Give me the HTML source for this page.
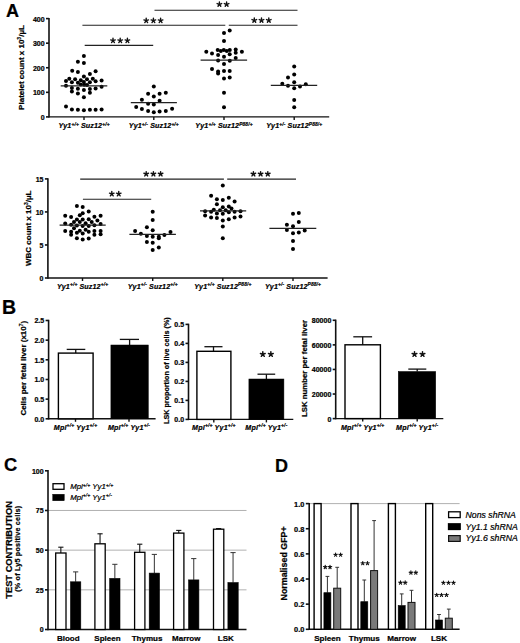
<!DOCTYPE html>
<html><head><meta charset="utf-8"><style>
html,body{margin:0;padding:0;background:#fff;overflow:hidden;}
svg{display:block;}
svg text{font-family:"Liberation Sans", sans-serif;fill:#000;stroke:#000;stroke-width:0.22px;}
</style></head><body>
<svg width="520" height="643" viewBox="0 0 520 643">
<rect width="520" height="643" fill="#fff"/>
<text x="12.50" y="16.50" font-size="18" font-weight="bold" font-style="normal" text-anchor="middle" >A</text>
<line x1="49.00" y1="17.90" x2="49.00" y2="117.60" stroke="#111" stroke-width="1.6"/>
<line x1="46.00" y1="116.90" x2="49.00" y2="116.90" stroke="#111" stroke-width="1.6"/>
<text x="44.60" y="119.80" font-size="7" font-weight="bold" font-style="normal" text-anchor="end" >0</text>
<line x1="46.00" y1="92.33" x2="49.00" y2="92.33" stroke="#111" stroke-width="1.6"/>
<text x="44.60" y="95.23" font-size="7" font-weight="bold" font-style="normal" text-anchor="end" >100</text>
<line x1="46.00" y1="67.75" x2="49.00" y2="67.75" stroke="#111" stroke-width="1.6"/>
<text x="44.60" y="70.65" font-size="7" font-weight="bold" font-style="normal" text-anchor="end" >200</text>
<line x1="46.00" y1="43.17" x2="49.00" y2="43.17" stroke="#111" stroke-width="1.6"/>
<text x="44.60" y="46.07" font-size="7" font-weight="bold" font-style="normal" text-anchor="end" >300</text>
<line x1="46.00" y1="18.60" x2="49.00" y2="18.60" stroke="#111" stroke-width="1.6"/>
<text x="44.60" y="21.50" font-size="7" font-weight="bold" font-style="normal" text-anchor="end" >400</text>
<line x1="49.00" y1="116.90" x2="329.20" y2="116.90" stroke="#111" stroke-width="1.4"/>
<line x1="84.00" y1="116.90" x2="84.00" y2="119.90" stroke="#111" stroke-width="1.4"/>
<line x1="153.80" y1="116.90" x2="153.80" y2="119.90" stroke="#111" stroke-width="1.4"/>
<line x1="224.00" y1="116.90" x2="224.00" y2="119.90" stroke="#111" stroke-width="1.4"/>
<line x1="294.20" y1="116.90" x2="294.20" y2="119.90" stroke="#111" stroke-width="1.4"/>
<text transform="translate(24.20,67.50) rotate(-90)" font-size="8.0" font-weight="bold" text-anchor="middle" >Platelet count x 10<tspan font-size="5.0" dy="-3.0">3</tspan><tspan dy="3.0">/µL</tspan></text>
<text x="84.00" y="128.10" font-size="7.1" font-weight="bold" font-style="italic" text-anchor="middle" letter-spacing="0.15">Yy1<tspan font-size="4.8" dy="-2.5">+/+</tspan><tspan dy="2.5"> Suz12</tspan><tspan font-size="4.8" dy="-2.5">+/+</tspan></text>
<text x="153.80" y="128.10" font-size="7.1" font-weight="bold" font-style="italic" text-anchor="middle" letter-spacing="0.15">Yy1<tspan font-size="4.8" dy="-2.5">+/-</tspan><tspan dy="2.5"> Suz12</tspan><tspan font-size="4.8" dy="-2.5">+/+</tspan></text>
<text x="224.00" y="128.10" font-size="7.1" font-weight="bold" font-style="italic" text-anchor="middle" letter-spacing="0.15">Yy1<tspan font-size="4.8" dy="-2.5">+/+</tspan><tspan dy="2.5"> Suz12</tspan><tspan font-size="4.8" dy="-2.5">P88/+</tspan></text>
<text x="294.20" y="128.10" font-size="7.1" font-weight="bold" font-style="italic" text-anchor="middle" letter-spacing="0.15">Yy1<tspan font-size="4.8" dy="-2.5">+/-</tspan><tspan dy="2.5"> Suz12</tspan><tspan font-size="4.8" dy="-2.5">P88/+</tspan></text>
<circle cx="83.90" cy="56.10" r="2.0" fill="#000"/>
<circle cx="77.90" cy="61.70" r="2.0" fill="#000"/>
<circle cx="83.90" cy="63.10" r="2.0" fill="#000"/>
<circle cx="72.20" cy="70.80" r="2.0" fill="#000"/>
<circle cx="77.90" cy="71.90" r="2.0" fill="#000"/>
<circle cx="95.60" cy="71.20" r="2.0" fill="#000"/>
<circle cx="89.90" cy="73.90" r="2.0" fill="#000"/>
<circle cx="83.90" cy="76.40" r="2.0" fill="#000"/>
<circle cx="66.00" cy="81.10" r="2.0" fill="#000"/>
<circle cx="69.30" cy="78.80" r="2.0" fill="#000"/>
<circle cx="75.10" cy="79.30" r="2.0" fill="#000"/>
<circle cx="80.80" cy="80.20" r="2.0" fill="#000"/>
<circle cx="87.00" cy="79.30" r="2.0" fill="#000"/>
<circle cx="92.80" cy="78.80" r="2.0" fill="#000"/>
<circle cx="95.60" cy="81.30" r="2.0" fill="#000"/>
<circle cx="101.60" cy="80.40" r="2.0" fill="#000"/>
<circle cx="71.90" cy="82.20" r="2.0" fill="#000"/>
<circle cx="77.90" cy="82.80" r="2.0" fill="#000"/>
<circle cx="83.90" cy="81.90" r="2.0" fill="#000"/>
<circle cx="89.90" cy="82.20" r="2.0" fill="#000"/>
<circle cx="80.80" cy="84.60" r="2.0" fill="#000"/>
<circle cx="87.00" cy="85.00" r="2.0" fill="#000"/>
<circle cx="66.00" cy="85.80" r="2.0" fill="#000"/>
<circle cx="84.20" cy="84.80" r="2.0" fill="#000"/>
<circle cx="101.60" cy="86.80" r="2.0" fill="#000"/>
<circle cx="71.90" cy="88.00" r="2.0" fill="#000"/>
<circle cx="77.90" cy="88.70" r="2.0" fill="#000"/>
<circle cx="83.90" cy="89.90" r="2.0" fill="#000"/>
<circle cx="89.90" cy="89.00" r="2.0" fill="#000"/>
<circle cx="95.60" cy="88.60" r="2.0" fill="#000"/>
<circle cx="71.90" cy="91.60" r="2.0" fill="#000"/>
<circle cx="77.90" cy="93.40" r="2.0" fill="#000"/>
<circle cx="89.90" cy="92.80" r="2.0" fill="#000"/>
<circle cx="83.90" cy="97.30" r="2.0" fill="#000"/>
<circle cx="66.00" cy="106.60" r="2.0" fill="#000"/>
<circle cx="71.90" cy="109.40" r="2.0" fill="#000"/>
<circle cx="77.90" cy="109.70" r="2.0" fill="#000"/>
<circle cx="83.90" cy="110.20" r="2.0" fill="#000"/>
<circle cx="89.90" cy="109.70" r="2.0" fill="#000"/>
<circle cx="95.60" cy="109.70" r="2.0" fill="#000"/>
<circle cx="101.60" cy="109.40" r="2.0" fill="#000"/>
<circle cx="153.80" cy="86.50" r="2.0" fill="#000"/>
<circle cx="148.10" cy="93.70" r="2.0" fill="#000"/>
<circle cx="159.60" cy="93.70" r="2.0" fill="#000"/>
<circle cx="165.80" cy="92.70" r="2.0" fill="#000"/>
<circle cx="153.80" cy="96.50" r="2.0" fill="#000"/>
<circle cx="141.90" cy="99.80" r="2.0" fill="#000"/>
<circle cx="159.60" cy="100.80" r="2.0" fill="#000"/>
<circle cx="148.10" cy="103.80" r="2.0" fill="#000"/>
<circle cx="153.80" cy="104.60" r="2.0" fill="#000"/>
<circle cx="136.20" cy="107.10" r="2.0" fill="#000"/>
<circle cx="141.90" cy="109.00" r="2.0" fill="#000"/>
<circle cx="172.10" cy="108.70" r="2.0" fill="#000"/>
<circle cx="148.10" cy="111.00" r="2.0" fill="#000"/>
<circle cx="153.80" cy="112.30" r="2.0" fill="#000"/>
<circle cx="159.60" cy="111.50" r="2.0" fill="#000"/>
<circle cx="165.80" cy="111.00" r="2.0" fill="#000"/>
<circle cx="229.70" cy="30.60" r="2.0" fill="#000"/>
<circle cx="224.00" cy="33.10" r="2.0" fill="#000"/>
<circle cx="224.00" cy="40.90" r="2.0" fill="#000"/>
<circle cx="206.30" cy="51.80" r="2.0" fill="#000"/>
<circle cx="212.00" cy="53.50" r="2.0" fill="#000"/>
<circle cx="217.70" cy="50.00" r="2.0" fill="#000"/>
<circle cx="220.80" cy="50.90" r="2.0" fill="#000"/>
<circle cx="223.80" cy="50.00" r="2.0" fill="#000"/>
<circle cx="226.80" cy="50.90" r="2.0" fill="#000"/>
<circle cx="229.80" cy="50.00" r="2.0" fill="#000"/>
<circle cx="235.70" cy="49.40" r="2.0" fill="#000"/>
<circle cx="235.70" cy="52.70" r="2.0" fill="#000"/>
<circle cx="241.90" cy="51.80" r="2.0" fill="#000"/>
<circle cx="218.10" cy="55.10" r="2.0" fill="#000"/>
<circle cx="224.00" cy="56.70" r="2.0" fill="#000"/>
<circle cx="229.70" cy="54.30" r="2.0" fill="#000"/>
<circle cx="218.10" cy="60.40" r="2.0" fill="#000"/>
<circle cx="229.80" cy="60.80" r="2.0" fill="#000"/>
<circle cx="235.70" cy="57.90" r="2.0" fill="#000"/>
<circle cx="224.00" cy="64.10" r="2.0" fill="#000"/>
<circle cx="212.00" cy="69.00" r="2.0" fill="#000"/>
<circle cx="218.10" cy="71.40" r="2.0" fill="#000"/>
<circle cx="218.10" cy="73.60" r="2.0" fill="#000"/>
<circle cx="224.00" cy="70.90" r="2.0" fill="#000"/>
<circle cx="229.70" cy="70.90" r="2.0" fill="#000"/>
<circle cx="224.00" cy="78.40" r="2.0" fill="#000"/>
<circle cx="229.70" cy="77.50" r="2.0" fill="#000"/>
<circle cx="224.00" cy="92.70" r="2.0" fill="#000"/>
<circle cx="224.00" cy="107.30" r="2.0" fill="#000"/>
<circle cx="294.20" cy="66.60" r="2.0" fill="#000"/>
<circle cx="294.20" cy="74.60" r="2.0" fill="#000"/>
<circle cx="288.00" cy="77.40" r="2.0" fill="#000"/>
<circle cx="294.20" cy="82.30" r="2.0" fill="#000"/>
<circle cx="282.30" cy="83.80" r="2.0" fill="#000"/>
<circle cx="288.00" cy="85.70" r="2.0" fill="#000"/>
<circle cx="294.20" cy="88.20" r="2.0" fill="#000"/>
<circle cx="300.00" cy="86.60" r="2.0" fill="#000"/>
<circle cx="305.80" cy="84.20" r="2.0" fill="#000"/>
<circle cx="294.20" cy="100.00" r="2.0" fill="#000"/>
<circle cx="294.20" cy="107.20" r="2.0" fill="#000"/>
<line x1="60.70" y1="85.80" x2="107.30" y2="85.80" stroke="#222" stroke-width="1.2"/>
<line x1="130.80" y1="102.70" x2="176.90" y2="102.70" stroke="#222" stroke-width="1.2"/>
<line x1="200.60" y1="60.20" x2="247.10" y2="60.20" stroke="#222" stroke-width="1.2"/>
<line x1="270.80" y1="85.40" x2="317.20" y2="85.40" stroke="#222" stroke-width="1.2"/>
<line x1="154.50" y1="10.20" x2="297.50" y2="10.20" stroke="#222" stroke-width="1.1"/>
<path d="M219.40 4.30L219.40 1.90M219.40 4.30L221.68 3.56M219.40 4.30L220.81 6.24M219.40 4.30L217.99 6.24M219.40 4.30L217.12 3.56" stroke="#111" stroke-width="1.4" stroke-linecap="round" fill="none"/>
<path d="M226.60 4.30L226.60 1.90M226.60 4.30L228.88 3.56M226.60 4.30L228.01 6.24M226.60 4.30L225.19 6.24M226.60 4.30L224.32 3.56" stroke="#111" stroke-width="1.4" stroke-linecap="round" fill="none"/>
<line x1="82.40" y1="25.30" x2="225.30" y2="25.30" stroke="#222" stroke-width="1.1"/>
<path d="M146.20 20.60L146.20 18.20M146.20 20.60L148.48 19.86M146.20 20.60L147.61 22.54M146.20 20.60L144.79 22.54M146.20 20.60L143.92 19.86" stroke="#111" stroke-width="1.4" stroke-linecap="round" fill="none"/>
<path d="M153.40 20.60L153.40 18.20M153.40 20.60L155.68 19.86M153.40 20.60L154.81 22.54M153.40 20.60L151.99 22.54M153.40 20.60L151.12 19.86" stroke="#111" stroke-width="1.4" stroke-linecap="round" fill="none"/>
<path d="M160.60 20.60L160.60 18.20M160.60 20.60L162.88 19.86M160.60 20.60L162.01 22.54M160.60 20.60L159.19 22.54M160.60 20.60L158.32 19.86" stroke="#111" stroke-width="1.4" stroke-linecap="round" fill="none"/>
<line x1="228.80" y1="25.30" x2="297.50" y2="25.30" stroke="#222" stroke-width="1.1"/>
<path d="M254.30 20.30L254.30 17.90M254.30 20.30L256.58 19.56M254.30 20.30L255.71 22.24M254.30 20.30L252.89 22.24M254.30 20.30L252.02 19.56" stroke="#111" stroke-width="1.4" stroke-linecap="round" fill="none"/>
<path d="M261.50 20.30L261.50 17.90M261.50 20.30L263.78 19.56M261.50 20.30L262.91 22.24M261.50 20.30L260.09 22.24M261.50 20.30L259.22 19.56" stroke="#111" stroke-width="1.4" stroke-linecap="round" fill="none"/>
<path d="M268.80 20.30L268.80 17.90M268.80 20.30L271.08 19.56M268.80 20.30L270.21 22.24M268.80 20.30L267.39 22.24M268.80 20.30L266.52 19.56" stroke="#111" stroke-width="1.4" stroke-linecap="round" fill="none"/>
<line x1="84.70" y1="45.40" x2="153.20" y2="45.40" stroke="#222" stroke-width="1.1"/>
<path d="M113.00 40.60L113.00 38.20M113.00 40.60L115.28 39.86M113.00 40.60L114.41 42.54M113.00 40.60L111.59 42.54M113.00 40.60L110.72 39.86" stroke="#111" stroke-width="1.4" stroke-linecap="round" fill="none"/>
<path d="M120.20 40.60L120.20 38.20M120.20 40.60L122.48 39.86M120.20 40.60L121.61 42.54M120.20 40.60L118.79 42.54M120.20 40.60L117.92 39.86" stroke="#111" stroke-width="1.4" stroke-linecap="round" fill="none"/>
<path d="M127.40 40.60L127.40 38.20M127.40 40.60L129.68 39.86M127.40 40.60L128.81 42.54M127.40 40.60L125.99 42.54M127.40 40.60L125.12 39.86" stroke="#111" stroke-width="1.4" stroke-linecap="round" fill="none"/>
<line x1="47.90" y1="178.20" x2="47.90" y2="278.70" stroke="#111" stroke-width="1.6"/>
<line x1="44.90" y1="278.00" x2="47.90" y2="278.00" stroke="#111" stroke-width="1.6"/>
<text x="43.50" y="280.90" font-size="7" font-weight="bold" font-style="normal" text-anchor="end" >0</text>
<line x1="44.90" y1="244.97" x2="47.90" y2="244.97" stroke="#111" stroke-width="1.6"/>
<text x="43.50" y="247.87" font-size="7" font-weight="bold" font-style="normal" text-anchor="end" >5</text>
<line x1="44.90" y1="211.93" x2="47.90" y2="211.93" stroke="#111" stroke-width="1.6"/>
<text x="43.50" y="214.83" font-size="7" font-weight="bold" font-style="normal" text-anchor="end" >10</text>
<line x1="44.90" y1="178.90" x2="47.90" y2="178.90" stroke="#111" stroke-width="1.6"/>
<text x="43.50" y="181.80" font-size="7" font-weight="bold" font-style="normal" text-anchor="end" >15</text>
<line x1="47.90" y1="278.00" x2="327.60" y2="278.00" stroke="#111" stroke-width="1.4"/>
<line x1="82.50" y1="278.00" x2="82.50" y2="281.00" stroke="#111" stroke-width="1.4"/>
<line x1="152.70" y1="278.00" x2="152.70" y2="281.00" stroke="#111" stroke-width="1.4"/>
<line x1="222.80" y1="278.00" x2="222.80" y2="281.00" stroke="#111" stroke-width="1.4"/>
<line x1="293.00" y1="278.00" x2="293.00" y2="281.00" stroke="#111" stroke-width="1.4"/>
<text transform="translate(31.30,228.30) rotate(-90)" font-size="8.0" font-weight="bold" text-anchor="middle" >WBC count x 10<tspan font-size="5.0" dy="-3.0">3</tspan><tspan dy="3.0">/µL</tspan></text>
<text x="82.50" y="288.60" font-size="7.1" font-weight="bold" font-style="italic" text-anchor="middle" letter-spacing="0.15">Yy1<tspan font-size="4.8" dy="-2.5">+/+</tspan><tspan dy="2.5"> Suz12</tspan><tspan font-size="4.8" dy="-2.5">+/+</tspan></text>
<text x="152.70" y="288.60" font-size="7.1" font-weight="bold" font-style="italic" text-anchor="middle" letter-spacing="0.15">Yy1<tspan font-size="4.8" dy="-2.5">+/-</tspan><tspan dy="2.5"> Suz12</tspan><tspan font-size="4.8" dy="-2.5">+/+</tspan></text>
<text x="222.80" y="288.60" font-size="7.1" font-weight="bold" font-style="italic" text-anchor="middle" letter-spacing="0.15">Yy1<tspan font-size="4.8" dy="-2.5">+/+</tspan><tspan dy="2.5"> Suz12</tspan><tspan font-size="4.8" dy="-2.5">P88/+</tspan></text>
<text x="293.00" y="288.60" font-size="7.1" font-weight="bold" font-style="italic" text-anchor="middle" letter-spacing="0.15">Yy1<tspan font-size="4.8" dy="-2.5">+/-</tspan><tspan dy="2.5"> Suz12</tspan><tspan font-size="4.8" dy="-2.5">P88/+</tspan></text>
<circle cx="76.90" cy="206.00" r="2.0" fill="#000"/>
<circle cx="82.70" cy="207.10" r="2.0" fill="#000"/>
<circle cx="88.70" cy="211.50" r="2.0" fill="#000"/>
<circle cx="82.70" cy="213.20" r="2.0" fill="#000"/>
<circle cx="79.80" cy="215.20" r="2.0" fill="#000"/>
<circle cx="65.20" cy="215.80" r="2.0" fill="#000"/>
<circle cx="71.10" cy="216.90" r="2.0" fill="#000"/>
<circle cx="94.40" cy="216.70" r="2.0" fill="#000"/>
<circle cx="100.60" cy="215.80" r="2.0" fill="#000"/>
<circle cx="76.90" cy="219.50" r="2.0" fill="#000"/>
<circle cx="82.70" cy="219.50" r="2.0" fill="#000"/>
<circle cx="88.70" cy="219.20" r="2.0" fill="#000"/>
<circle cx="74.00" cy="222.10" r="2.0" fill="#000"/>
<circle cx="79.80" cy="222.10" r="2.0" fill="#000"/>
<circle cx="91.70" cy="222.10" r="2.0" fill="#000"/>
<circle cx="97.40" cy="220.60" r="2.0" fill="#000"/>
<circle cx="65.20" cy="223.60" r="2.0" fill="#000"/>
<circle cx="71.10" cy="224.80" r="2.0" fill="#000"/>
<circle cx="76.90" cy="225.60" r="2.0" fill="#000"/>
<circle cx="85.60" cy="223.30" r="2.0" fill="#000"/>
<circle cx="82.70" cy="226.10" r="2.0" fill="#000"/>
<circle cx="88.70" cy="226.10" r="2.0" fill="#000"/>
<circle cx="94.40" cy="225.20" r="2.0" fill="#000"/>
<circle cx="100.60" cy="224.10" r="2.0" fill="#000"/>
<circle cx="74.00" cy="228.20" r="2.0" fill="#000"/>
<circle cx="65.20" cy="231.00" r="2.0" fill="#000"/>
<circle cx="71.10" cy="231.70" r="2.0" fill="#000"/>
<circle cx="79.80" cy="230.80" r="2.0" fill="#000"/>
<circle cx="85.60" cy="229.80" r="2.0" fill="#000"/>
<circle cx="88.70" cy="231.70" r="2.0" fill="#000"/>
<circle cx="76.90" cy="232.80" r="2.0" fill="#000"/>
<circle cx="82.70" cy="233.60" r="2.0" fill="#000"/>
<circle cx="94.40" cy="231.00" r="2.0" fill="#000"/>
<circle cx="100.60" cy="231.00" r="2.0" fill="#000"/>
<circle cx="71.10" cy="234.80" r="2.0" fill="#000"/>
<circle cx="94.40" cy="234.80" r="2.0" fill="#000"/>
<circle cx="100.60" cy="234.20" r="2.0" fill="#000"/>
<circle cx="76.90" cy="238.30" r="2.0" fill="#000"/>
<circle cx="82.70" cy="239.40" r="2.0" fill="#000"/>
<circle cx="88.70" cy="238.60" r="2.0" fill="#000"/>
<circle cx="152.70" cy="211.80" r="2.0" fill="#000"/>
<circle cx="152.70" cy="219.90" r="2.0" fill="#000"/>
<circle cx="146.90" cy="227.30" r="2.0" fill="#000"/>
<circle cx="135.10" cy="231.10" r="2.0" fill="#000"/>
<circle cx="152.70" cy="230.30" r="2.0" fill="#000"/>
<circle cx="140.90" cy="233.80" r="2.0" fill="#000"/>
<circle cx="170.50" cy="232.00" r="2.0" fill="#000"/>
<circle cx="164.40" cy="235.00" r="2.0" fill="#000"/>
<circle cx="146.90" cy="236.00" r="2.0" fill="#000"/>
<circle cx="152.70" cy="236.70" r="2.0" fill="#000"/>
<circle cx="158.80" cy="236.70" r="2.0" fill="#000"/>
<circle cx="158.80" cy="238.30" r="2.0" fill="#000"/>
<circle cx="146.90" cy="242.10" r="2.0" fill="#000"/>
<circle cx="152.70" cy="242.80" r="2.0" fill="#000"/>
<circle cx="158.80" cy="247.50" r="2.0" fill="#000"/>
<circle cx="152.70" cy="249.90" r="2.0" fill="#000"/>
<circle cx="222.80" cy="185.40" r="2.0" fill="#000"/>
<circle cx="211.10" cy="195.80" r="2.0" fill="#000"/>
<circle cx="216.90" cy="199.20" r="2.0" fill="#000"/>
<circle cx="222.80" cy="200.00" r="2.0" fill="#000"/>
<circle cx="228.80" cy="197.70" r="2.0" fill="#000"/>
<circle cx="234.60" cy="201.50" r="2.0" fill="#000"/>
<circle cx="216.90" cy="204.20" r="2.0" fill="#000"/>
<circle cx="222.80" cy="207.20" r="2.0" fill="#000"/>
<circle cx="228.80" cy="206.60" r="2.0" fill="#000"/>
<circle cx="231.50" cy="208.50" r="2.0" fill="#000"/>
<circle cx="213.80" cy="209.70" r="2.0" fill="#000"/>
<circle cx="220.00" cy="210.30" r="2.0" fill="#000"/>
<circle cx="225.70" cy="210.30" r="2.0" fill="#000"/>
<circle cx="205.10" cy="211.20" r="2.0" fill="#000"/>
<circle cx="211.10" cy="211.80" r="2.0" fill="#000"/>
<circle cx="216.90" cy="213.40" r="2.0" fill="#000"/>
<circle cx="222.80" cy="213.80" r="2.0" fill="#000"/>
<circle cx="228.80" cy="212.30" r="2.0" fill="#000"/>
<circle cx="234.60" cy="211.80" r="2.0" fill="#000"/>
<circle cx="240.50" cy="211.20" r="2.0" fill="#000"/>
<circle cx="205.10" cy="215.40" r="2.0" fill="#000"/>
<circle cx="211.10" cy="217.40" r="2.0" fill="#000"/>
<circle cx="216.90" cy="218.00" r="2.0" fill="#000"/>
<circle cx="222.80" cy="220.50" r="2.0" fill="#000"/>
<circle cx="228.80" cy="219.20" r="2.0" fill="#000"/>
<circle cx="234.60" cy="217.40" r="2.0" fill="#000"/>
<circle cx="240.50" cy="216.50" r="2.0" fill="#000"/>
<circle cx="222.80" cy="226.60" r="2.0" fill="#000"/>
<circle cx="222.80" cy="238.20" r="2.0" fill="#000"/>
<circle cx="293.00" cy="213.70" r="2.0" fill="#000"/>
<circle cx="298.80" cy="212.90" r="2.0" fill="#000"/>
<circle cx="286.90" cy="224.80" r="2.0" fill="#000"/>
<circle cx="293.00" cy="226.30" r="2.0" fill="#000"/>
<circle cx="298.80" cy="222.10" r="2.0" fill="#000"/>
<circle cx="286.90" cy="230.10" r="2.0" fill="#000"/>
<circle cx="293.00" cy="233.20" r="2.0" fill="#000"/>
<circle cx="298.80" cy="232.60" r="2.0" fill="#000"/>
<circle cx="304.70" cy="230.50" r="2.0" fill="#000"/>
<circle cx="293.00" cy="241.00" r="2.0" fill="#000"/>
<circle cx="293.00" cy="249.00" r="2.0" fill="#000"/>
<line x1="59.60" y1="225.20" x2="105.70" y2="225.20" stroke="#222" stroke-width="1.2"/>
<line x1="129.40" y1="234.40" x2="175.90" y2="234.40" stroke="#222" stroke-width="1.2"/>
<line x1="200.00" y1="210.80" x2="246.20" y2="210.80" stroke="#222" stroke-width="1.2"/>
<line x1="269.40" y1="228.40" x2="316.30" y2="228.40" stroke="#222" stroke-width="1.2"/>
<line x1="80.20" y1="179.10" x2="223.90" y2="179.10" stroke="#222" stroke-width="1.1"/>
<path d="M146.20 174.00L146.20 171.60M146.20 174.00L148.48 173.26M146.20 174.00L147.61 175.94M146.20 174.00L144.79 175.94M146.20 174.00L143.92 173.26" stroke="#111" stroke-width="1.4" stroke-linecap="round" fill="none"/>
<path d="M153.40 174.00L153.40 171.60M153.40 174.00L155.68 173.26M153.40 174.00L154.81 175.94M153.40 174.00L151.99 175.94M153.40 174.00L151.12 173.26" stroke="#111" stroke-width="1.4" stroke-linecap="round" fill="none"/>
<path d="M160.60 174.00L160.60 171.60M160.60 174.00L162.88 173.26M160.60 174.00L162.01 175.94M160.60 174.00L159.19 175.94M160.60 174.00L158.32 173.26" stroke="#111" stroke-width="1.4" stroke-linecap="round" fill="none"/>
<line x1="227.20" y1="179.10" x2="296.00" y2="179.10" stroke="#222" stroke-width="1.1"/>
<path d="M253.40 174.00L253.40 171.60M253.40 174.00L255.68 173.26M253.40 174.00L254.81 175.94M253.40 174.00L251.99 175.94M253.40 174.00L251.12 173.26" stroke="#111" stroke-width="1.4" stroke-linecap="round" fill="none"/>
<path d="M260.60 174.00L260.60 171.60M260.60 174.00L262.88 173.26M260.60 174.00L262.01 175.94M260.60 174.00L259.19 175.94M260.60 174.00L258.32 173.26" stroke="#111" stroke-width="1.4" stroke-linecap="round" fill="none"/>
<path d="M267.80 174.00L267.80 171.60M267.80 174.00L270.08 173.26M267.80 174.00L269.21 175.94M267.80 174.00L266.39 175.94M267.80 174.00L265.52 173.26" stroke="#111" stroke-width="1.4" stroke-linecap="round" fill="none"/>
<line x1="82.90" y1="199.30" x2="151.20" y2="199.30" stroke="#222" stroke-width="1.1"/>
<path d="M111.80 193.90L111.80 191.50M111.80 193.90L114.08 193.16M111.80 193.90L113.21 195.84M111.80 193.90L110.39 195.84M111.80 193.90L109.52 193.16" stroke="#111" stroke-width="1.4" stroke-linecap="round" fill="none"/>
<path d="M118.75 193.90L118.75 191.50M118.75 193.90L121.03 193.16M118.75 193.90L120.16 195.84M118.75 193.90L117.34 195.84M118.75 193.90L116.47 193.16" stroke="#111" stroke-width="1.4" stroke-linecap="round" fill="none"/>
<text x="9.00" y="314.00" font-size="19.5" font-weight="bold" font-style="normal" text-anchor="middle" >B</text>
<line x1="48.60" y1="319.80" x2="48.60" y2="419.50" stroke="#111" stroke-width="1.6"/>
<line x1="45.60" y1="418.80" x2="48.60" y2="418.80" stroke="#111" stroke-width="1.6"/>
<text x="44.20" y="421.70" font-size="7" font-weight="bold" font-style="normal" text-anchor="end" >0.0</text>
<line x1="45.60" y1="399.14" x2="48.60" y2="399.14" stroke="#111" stroke-width="1.6"/>
<text x="44.20" y="402.04" font-size="7" font-weight="bold" font-style="normal" text-anchor="end" >0.5</text>
<line x1="45.60" y1="379.48" x2="48.60" y2="379.48" stroke="#111" stroke-width="1.6"/>
<text x="44.20" y="382.38" font-size="7" font-weight="bold" font-style="normal" text-anchor="end" >1.0</text>
<line x1="45.60" y1="359.82" x2="48.60" y2="359.82" stroke="#111" stroke-width="1.6"/>
<text x="44.20" y="362.72" font-size="7" font-weight="bold" font-style="normal" text-anchor="end" >1.5</text>
<line x1="45.60" y1="340.16" x2="48.60" y2="340.16" stroke="#111" stroke-width="1.6"/>
<text x="44.20" y="343.06" font-size="7" font-weight="bold" font-style="normal" text-anchor="end" >2.0</text>
<line x1="45.60" y1="320.50" x2="48.60" y2="320.50" stroke="#111" stroke-width="1.6"/>
<text x="44.20" y="323.40" font-size="7" font-weight="bold" font-style="normal" text-anchor="end" >2.5</text>
<line x1="48.60" y1="418.80" x2="155.60" y2="418.80" stroke="#111" stroke-width="1.4"/>
<line x1="75.50" y1="418.80" x2="75.50" y2="421.80" stroke="#111" stroke-width="1.4"/>
<line x1="129.00" y1="418.80" x2="129.00" y2="421.80" stroke="#111" stroke-width="1.4"/>
<line x1="75.75" y1="353.10" x2="75.75" y2="349.40" stroke="#111" stroke-width="1.3"/>
<line x1="66.70" y1="349.40" x2="85.30" y2="349.40" stroke="#111" stroke-width="1.3"/>
<line x1="129.60" y1="345.00" x2="129.60" y2="339.40" stroke="#111" stroke-width="1.3"/>
<line x1="119.80" y1="339.40" x2="139.00" y2="339.40" stroke="#111" stroke-width="1.3"/>
<rect x="58.40" y="353.10" width="34.70" height="65.70" fill="#fff" stroke="#000" stroke-width="1.4"/>
<rect x="110.90" y="345.00" width="37.40" height="73.80" fill="#000" stroke="#000" stroke-width="0.5"/>
<text x="75.50" y="429.60" font-size="7.1" font-weight="bold" font-style="italic" text-anchor="middle" letter-spacing="0.2">Mpl<tspan font-size="4.9" dy="-2.5">+/+</tspan><tspan dy="2.5"> Yy1</tspan><tspan font-size="4.9" dy="-2.5">+/+</tspan></text>
<text x="129.00" y="429.60" font-size="7.1" font-weight="bold" font-style="italic" text-anchor="middle" letter-spacing="0.2">Mpl<tspan font-size="4.9" dy="-2.5">+/+</tspan><tspan dy="2.5"> Yy1</tspan><tspan font-size="4.9" dy="-2.5">+/-</tspan></text>
<text transform="translate(26.30,368.20) rotate(-90)" font-size="8.0" font-weight="bold" text-anchor="middle" >Cells per fetal liver (x10<tspan font-size="5.0" dy="-3.0">7</tspan><tspan dy="3.0">)</tspan></text>
<line x1="188.50" y1="323.70" x2="188.50" y2="420.10" stroke="#111" stroke-width="1.6"/>
<line x1="185.50" y1="419.40" x2="188.50" y2="419.40" stroke="#111" stroke-width="1.6"/>
<text x="184.10" y="422.30" font-size="7" font-weight="bold" font-style="normal" text-anchor="end" >0.0</text>
<line x1="185.50" y1="400.40" x2="188.50" y2="400.40" stroke="#111" stroke-width="1.6"/>
<text x="184.10" y="403.30" font-size="7" font-weight="bold" font-style="normal" text-anchor="end" >0.1</text>
<line x1="185.50" y1="381.40" x2="188.50" y2="381.40" stroke="#111" stroke-width="1.6"/>
<text x="184.10" y="384.30" font-size="7" font-weight="bold" font-style="normal" text-anchor="end" >0.2</text>
<line x1="185.50" y1="362.40" x2="188.50" y2="362.40" stroke="#111" stroke-width="1.6"/>
<text x="184.10" y="365.30" font-size="7" font-weight="bold" font-style="normal" text-anchor="end" >0.3</text>
<line x1="185.50" y1="343.40" x2="188.50" y2="343.40" stroke="#111" stroke-width="1.6"/>
<text x="184.10" y="346.30" font-size="7" font-weight="bold" font-style="normal" text-anchor="end" >0.4</text>
<line x1="185.50" y1="324.40" x2="188.50" y2="324.40" stroke="#111" stroke-width="1.6"/>
<text x="184.10" y="327.30" font-size="7" font-weight="bold" font-style="normal" text-anchor="end" >0.5</text>
<line x1="188.50" y1="419.40" x2="293.30" y2="419.40" stroke="#111" stroke-width="1.4"/>
<line x1="213.80" y1="419.40" x2="213.80" y2="422.40" stroke="#111" stroke-width="1.4"/>
<line x1="266.40" y1="419.40" x2="266.40" y2="422.40" stroke="#111" stroke-width="1.4"/>
<line x1="213.50" y1="351.30" x2="213.50" y2="346.70" stroke="#111" stroke-width="1.3"/>
<line x1="204.40" y1="346.70" x2="222.50" y2="346.70" stroke="#111" stroke-width="1.3"/>
<line x1="266.40" y1="379.00" x2="266.40" y2="374.20" stroke="#111" stroke-width="1.3"/>
<line x1="257.50" y1="374.20" x2="275.20" y2="374.20" stroke="#111" stroke-width="1.3"/>
<rect x="196.90" y="351.30" width="34.00" height="68.10" fill="#fff" stroke="#000" stroke-width="1.4"/>
<rect x="248.90" y="379.00" width="35.00" height="40.40" fill="#000" stroke="#000" stroke-width="0.5"/>
<path d="M262.80 354.30L262.80 351.80M262.80 354.30L265.18 353.53M262.80 354.30L264.27 356.32M262.80 354.30L261.33 356.32M262.80 354.30L260.42 353.53" stroke="#111" stroke-width="1.5" stroke-linecap="round" fill="none"/>
<path d="M270.85 354.30L270.85 351.80M270.85 354.30L273.23 353.53M270.85 354.30L272.32 356.32M270.85 354.30L269.38 356.32M270.85 354.30L268.47 353.53" stroke="#111" stroke-width="1.5" stroke-linecap="round" fill="none"/>
<text x="213.80" y="429.60" font-size="7.1" font-weight="bold" font-style="italic" text-anchor="middle" letter-spacing="0.2">Mpl<tspan font-size="4.9" dy="-2.5">+/+</tspan><tspan dy="2.5"> Yy1</tspan><tspan font-size="4.9" dy="-2.5">+/+</tspan></text>
<text x="266.40" y="429.60" font-size="7.1" font-weight="bold" font-style="italic" text-anchor="middle" letter-spacing="0.2">Mpl<tspan font-size="4.9" dy="-2.5">+/+</tspan><tspan dy="2.5"> Yy1</tspan><tspan font-size="4.9" dy="-2.5">+/-</tspan></text>
<text transform="translate(168.90,370.60) rotate(-90)" font-size="7.2" font-weight="bold" text-anchor="middle" >LSK proportion of live cells (%)</text>
<line x1="335.70" y1="319.60" x2="335.70" y2="419.30" stroke="#111" stroke-width="1.6"/>
<line x1="332.70" y1="418.60" x2="335.70" y2="418.60" stroke="#111" stroke-width="1.6"/>
<text x="331.30" y="421.50" font-size="7" font-weight="bold" font-style="normal" text-anchor="end" >0</text>
<line x1="332.70" y1="394.03" x2="335.70" y2="394.03" stroke="#111" stroke-width="1.6"/>
<text x="331.30" y="396.93" font-size="7" font-weight="bold" font-style="normal" text-anchor="end" >20000</text>
<line x1="332.70" y1="369.45" x2="335.70" y2="369.45" stroke="#111" stroke-width="1.6"/>
<text x="331.30" y="372.35" font-size="7" font-weight="bold" font-style="normal" text-anchor="end" >40000</text>
<line x1="332.70" y1="344.88" x2="335.70" y2="344.88" stroke="#111" stroke-width="1.6"/>
<text x="331.30" y="347.77" font-size="7" font-weight="bold" font-style="normal" text-anchor="end" >60000</text>
<line x1="332.70" y1="320.30" x2="335.70" y2="320.30" stroke="#111" stroke-width="1.6"/>
<text x="331.30" y="323.20" font-size="7" font-weight="bold" font-style="normal" text-anchor="end" >80000</text>
<line x1="335.70" y1="418.60" x2="443.30" y2="418.60" stroke="#111" stroke-width="1.4"/>
<line x1="362.70" y1="418.60" x2="362.70" y2="421.60" stroke="#111" stroke-width="1.4"/>
<line x1="417.20" y1="418.60" x2="417.20" y2="421.60" stroke="#111" stroke-width="1.4"/>
<line x1="362.70" y1="344.80" x2="362.70" y2="336.80" stroke="#111" stroke-width="1.3"/>
<line x1="353.30" y1="336.80" x2="372.10" y2="336.80" stroke="#111" stroke-width="1.3"/>
<line x1="417.20" y1="371.50" x2="417.20" y2="369.10" stroke="#111" stroke-width="1.3"/>
<line x1="408.30" y1="369.10" x2="426.30" y2="369.10" stroke="#111" stroke-width="1.3"/>
<rect x="345.00" y="344.80" width="35.40" height="73.80" fill="#fff" stroke="#000" stroke-width="1.4"/>
<rect x="398.30" y="371.50" width="37.40" height="47.10" fill="#000" stroke="#000" stroke-width="0.5"/>
<path d="M414.50 354.30L414.50 351.80M414.50 354.30L416.88 353.53M414.50 354.30L415.97 356.32M414.50 354.30L413.03 356.32M414.50 354.30L412.12 353.53" stroke="#111" stroke-width="1.5" stroke-linecap="round" fill="none"/>
<path d="M422.50 354.30L422.50 351.80M422.50 354.30L424.88 353.53M422.50 354.30L423.97 356.32M422.50 354.30L421.03 356.32M422.50 354.30L420.12 353.53" stroke="#111" stroke-width="1.5" stroke-linecap="round" fill="none"/>
<text x="362.70" y="429.60" font-size="7.1" font-weight="bold" font-style="italic" text-anchor="middle" letter-spacing="0.2">Mpl<tspan font-size="4.9" dy="-2.5">+/+</tspan><tspan dy="2.5"> Yy1</tspan><tspan font-size="4.9" dy="-2.5">+/+</tspan></text>
<text x="417.20" y="429.60" font-size="7.1" font-weight="bold" font-style="italic" text-anchor="middle" letter-spacing="0.2">Mpl<tspan font-size="4.9" dy="-2.5">+/+</tspan><tspan dy="2.5"> Yy1</tspan><tspan font-size="4.9" dy="-2.5">+/-</tspan></text>
<text transform="translate(306.70,368.50) rotate(-90)" font-size="7.8" font-weight="bold" text-anchor="middle" >LSK number per fetal liver</text>
<text x="10.60" y="470.50" font-size="18.3" font-weight="bold" font-style="normal" text-anchor="middle" >C</text>
<line x1="48.00" y1="589.83" x2="246.50" y2="589.83" stroke="#a8a8a8" stroke-width="0.9"/>
<line x1="48.00" y1="550.15" x2="246.50" y2="550.15" stroke="#a8a8a8" stroke-width="0.9"/>
<line x1="48.00" y1="510.48" x2="246.50" y2="510.48" stroke="#a8a8a8" stroke-width="0.9"/>
<line x1="48.00" y1="470.10" x2="48.00" y2="630.20" stroke="#111" stroke-width="1.6"/>
<line x1="45.00" y1="629.50" x2="48.00" y2="629.50" stroke="#111" stroke-width="1.6"/>
<text x="43.60" y="632.40" font-size="7" font-weight="bold" font-style="normal" text-anchor="end" >0</text>
<line x1="45.00" y1="589.83" x2="48.00" y2="589.83" stroke="#111" stroke-width="1.6"/>
<text x="43.60" y="592.73" font-size="7" font-weight="bold" font-style="normal" text-anchor="end" >25</text>
<line x1="45.00" y1="550.15" x2="48.00" y2="550.15" stroke="#111" stroke-width="1.6"/>
<text x="43.60" y="553.05" font-size="7" font-weight="bold" font-style="normal" text-anchor="end" >50</text>
<line x1="45.00" y1="510.48" x2="48.00" y2="510.48" stroke="#111" stroke-width="1.6"/>
<text x="43.60" y="513.38" font-size="7" font-weight="bold" font-style="normal" text-anchor="end" >75</text>
<line x1="45.00" y1="470.80" x2="48.00" y2="470.80" stroke="#111" stroke-width="1.6"/>
<text x="43.60" y="473.70" font-size="7" font-weight="bold" font-style="normal" text-anchor="end" >100</text>
<line x1="48.00" y1="629.50" x2="246.50" y2="629.50" stroke="#111" stroke-width="1.4"/>
<line x1="60.85" y1="553.00" x2="60.85" y2="547.20" stroke="#111" stroke-width="1.1"/>
<line x1="58.25" y1="547.20" x2="63.45" y2="547.20" stroke="#111" stroke-width="1.1"/>
<line x1="75.65" y1="581.80" x2="75.65" y2="571.90" stroke="#333" stroke-width="1.0"/>
<line x1="73.05" y1="571.90" x2="78.25" y2="571.90" stroke="#333" stroke-width="1.0"/>
<rect x="55.70" y="553.00" width="10.30" height="76.50" fill="#fff" stroke="#000" stroke-width="1.3"/>
<rect x="70.50" y="581.80" width="10.30" height="47.70" fill="#000" stroke="#000" stroke-width="0.6"/>
<text x="68.25" y="641.10" font-size="8.0" font-weight="bold" font-style="normal" text-anchor="middle" >Blood</text>
<line x1="100.05" y1="543.80" x2="100.05" y2="533.80" stroke="#111" stroke-width="1.1"/>
<line x1="97.45" y1="533.80" x2="102.65" y2="533.80" stroke="#111" stroke-width="1.1"/>
<line x1="114.85" y1="578.40" x2="114.85" y2="564.30" stroke="#333" stroke-width="1.0"/>
<line x1="112.25" y1="564.30" x2="117.45" y2="564.30" stroke="#333" stroke-width="1.0"/>
<rect x="94.90" y="543.80" width="10.30" height="85.70" fill="#fff" stroke="#000" stroke-width="1.3"/>
<rect x="109.70" y="578.40" width="10.30" height="51.10" fill="#000" stroke="#000" stroke-width="0.6"/>
<text x="107.45" y="641.10" font-size="8.0" font-weight="bold" font-style="normal" text-anchor="middle" >Spleen</text>
<line x1="139.75" y1="552.30" x2="139.75" y2="544.20" stroke="#111" stroke-width="1.1"/>
<line x1="137.15" y1="544.20" x2="142.35" y2="544.20" stroke="#111" stroke-width="1.1"/>
<line x1="154.35" y1="573.10" x2="154.35" y2="554.40" stroke="#333" stroke-width="1.0"/>
<line x1="151.75" y1="554.40" x2="156.95" y2="554.40" stroke="#333" stroke-width="1.0"/>
<rect x="134.60" y="552.30" width="10.30" height="77.20" fill="#fff" stroke="#000" stroke-width="1.3"/>
<rect x="149.20" y="573.10" width="10.30" height="56.40" fill="#000" stroke="#000" stroke-width="0.6"/>
<text x="147.05" y="641.10" font-size="8.0" font-weight="bold" font-style="normal" text-anchor="middle" >Thymus</text>
<line x1="178.75" y1="533.10" x2="178.75" y2="530.40" stroke="#111" stroke-width="1.1"/>
<line x1="176.15" y1="530.40" x2="181.35" y2="530.40" stroke="#111" stroke-width="1.1"/>
<line x1="193.75" y1="579.90" x2="193.75" y2="558.60" stroke="#333" stroke-width="1.0"/>
<line x1="191.15" y1="558.60" x2="196.35" y2="558.60" stroke="#333" stroke-width="1.0"/>
<rect x="173.60" y="533.10" width="10.30" height="96.40" fill="#fff" stroke="#000" stroke-width="1.3"/>
<rect x="188.60" y="579.90" width="10.30" height="49.60" fill="#000" stroke="#000" stroke-width="0.6"/>
<text x="186.25" y="641.10" font-size="8.0" font-weight="bold" font-style="normal" text-anchor="middle" >Marrow</text>
<line x1="218.65" y1="529.20" x2="218.65" y2="528.60" stroke="#111" stroke-width="1.1"/>
<line x1="216.05" y1="528.60" x2="221.25" y2="528.60" stroke="#111" stroke-width="1.1"/>
<line x1="233.05" y1="582.60" x2="233.05" y2="552.60" stroke="#333" stroke-width="1.0"/>
<line x1="230.45" y1="552.60" x2="235.65" y2="552.60" stroke="#333" stroke-width="1.0"/>
<rect x="213.50" y="529.20" width="10.30" height="100.30" fill="#fff" stroke="#000" stroke-width="1.3"/>
<rect x="227.90" y="582.60" width="10.30" height="46.90" fill="#000" stroke="#000" stroke-width="0.6"/>
<text x="225.85" y="641.10" font-size="8.0" font-weight="bold" font-style="normal" text-anchor="middle" >LSK</text>
<rect x="53.00" y="483.70" width="11.00" height="5.60" fill="#fff" stroke="#000" stroke-width="1.3"/>
<rect x="52.60" y="494.20" width="11.80" height="6.60" fill="#000" stroke="#000" stroke-width="0.3"/>
<text x="70.2" y="489.4" font-size="7.8" font-style="italic">Mpl<tspan font-size="5.2" dy="-2.8">+/+</tspan><tspan dy="2.8"> Yy1</tspan><tspan font-size="5.2" dy="-2.8">+/+</tspan></text>
<text x="70.2" y="500.2" font-size="7.8" font-style="italic">Mpl<tspan font-size="5.2" dy="-2.8">+/+</tspan><tspan dy="2.8"> Yy1</tspan><tspan font-size="5.2" dy="-2.8">+/-</tspan></text>
<text transform="translate(11.60,549.90) rotate(-90)" font-size="9.3" font-weight="bold" text-anchor="middle" >TEST CONTRIBUTION</text>
<text transform="translate(20.00,548.70) rotate(-90)" font-size="7.2" font-weight="bold" text-anchor="middle" letter-spacing="0.2">(% of Ly5 positive cells)</text>
<text x="281.60" y="471.50" font-size="18" font-weight="bold" font-style="normal" text-anchor="middle" >D</text>
<line x1="309.20" y1="503.60" x2="459.60" y2="503.60" stroke="#a8a8a8" stroke-width="0.9"/>
<line x1="309.20" y1="502.90" x2="309.20" y2="630.00" stroke="#111" stroke-width="1.6"/>
<line x1="305.80" y1="629.30" x2="309.20" y2="629.30" stroke="#111" stroke-width="1.6"/>
<text x="304.40" y="632.20" font-size="7.4" font-weight="bold" font-style="normal" text-anchor="end" >0.0</text>
<line x1="305.80" y1="604.16" x2="309.20" y2="604.16" stroke="#111" stroke-width="1.6"/>
<text x="304.40" y="607.06" font-size="7.4" font-weight="bold" font-style="normal" text-anchor="end" >0.2</text>
<line x1="305.80" y1="579.02" x2="309.20" y2="579.02" stroke="#111" stroke-width="1.6"/>
<text x="304.40" y="581.92" font-size="7.4" font-weight="bold" font-style="normal" text-anchor="end" >0.4</text>
<line x1="305.80" y1="553.88" x2="309.20" y2="553.88" stroke="#111" stroke-width="1.6"/>
<text x="304.40" y="556.78" font-size="7.4" font-weight="bold" font-style="normal" text-anchor="end" >0.6</text>
<line x1="305.80" y1="528.74" x2="309.20" y2="528.74" stroke="#111" stroke-width="1.6"/>
<text x="304.40" y="531.64" font-size="7.4" font-weight="bold" font-style="normal" text-anchor="end" >0.8</text>
<line x1="305.80" y1="503.60" x2="309.20" y2="503.60" stroke="#111" stroke-width="1.6"/>
<text x="304.40" y="506.50" font-size="7.4" font-weight="bold" font-style="normal" text-anchor="end" >1.0</text>
<line x1="309.20" y1="629.30" x2="459.60" y2="629.30" stroke="#111" stroke-width="1.4"/>
<line x1="327.40" y1="592.70" x2="327.40" y2="576.40" stroke="#333" stroke-width="1.0"/>
<line x1="325.50" y1="576.40" x2="329.30" y2="576.40" stroke="#333" stroke-width="1.0"/>
<line x1="337.20" y1="588.20" x2="337.20" y2="567.30" stroke="#333" stroke-width="1.0"/>
<line x1="335.30" y1="567.30" x2="339.10" y2="567.30" stroke="#333" stroke-width="1.0"/>
<rect x="314.10" y="503.60" width="7.00" height="125.70" fill="#fff" stroke="#000" stroke-width="1.4"/>
<rect x="323.90" y="592.70" width="7.00" height="36.60" fill="#000" stroke="#000" stroke-width="0.6"/>
<rect x="333.70" y="588.20" width="7.00" height="41.10" fill="#7a7a7a" stroke="#111" stroke-width="1.0"/>
<text x="327.40" y="641.00" font-size="8.1" font-weight="bold" font-style="normal" text-anchor="middle" >Spleen</text>
<line x1="364.30" y1="601.70" x2="364.30" y2="580.00" stroke="#333" stroke-width="1.0"/>
<line x1="362.40" y1="580.00" x2="366.20" y2="580.00" stroke="#333" stroke-width="1.0"/>
<line x1="374.10" y1="570.60" x2="374.10" y2="520.60" stroke="#333" stroke-width="1.0"/>
<line x1="372.20" y1="520.60" x2="376.00" y2="520.60" stroke="#333" stroke-width="1.0"/>
<rect x="351.00" y="503.60" width="7.00" height="125.70" fill="#fff" stroke="#000" stroke-width="1.4"/>
<rect x="360.80" y="601.70" width="7.00" height="27.60" fill="#000" stroke="#000" stroke-width="0.6"/>
<rect x="370.60" y="570.60" width="7.00" height="58.70" fill="#7a7a7a" stroke="#111" stroke-width="1.0"/>
<text x="364.30" y="641.00" font-size="8.1" font-weight="bold" font-style="normal" text-anchor="middle" >Thymus</text>
<line x1="401.70" y1="605.60" x2="401.70" y2="593.90" stroke="#333" stroke-width="1.0"/>
<line x1="399.80" y1="593.90" x2="403.60" y2="593.90" stroke="#333" stroke-width="1.0"/>
<line x1="411.50" y1="602.40" x2="411.50" y2="590.30" stroke="#333" stroke-width="1.0"/>
<line x1="409.60" y1="590.30" x2="413.40" y2="590.30" stroke="#333" stroke-width="1.0"/>
<rect x="388.40" y="503.60" width="7.00" height="125.70" fill="#fff" stroke="#000" stroke-width="1.4"/>
<rect x="398.20" y="605.60" width="7.00" height="23.70" fill="#000" stroke="#000" stroke-width="0.6"/>
<rect x="408.00" y="602.40" width="7.00" height="26.90" fill="#7a7a7a" stroke="#111" stroke-width="1.0"/>
<text x="401.70" y="641.00" font-size="8.1" font-weight="bold" font-style="normal" text-anchor="middle" >Marrow</text>
<line x1="439.00" y1="620.00" x2="439.00" y2="614.50" stroke="#333" stroke-width="1.0"/>
<line x1="437.10" y1="614.50" x2="440.90" y2="614.50" stroke="#333" stroke-width="1.0"/>
<line x1="448.80" y1="618.20" x2="448.80" y2="609.10" stroke="#333" stroke-width="1.0"/>
<line x1="446.90" y1="609.10" x2="450.70" y2="609.10" stroke="#333" stroke-width="1.0"/>
<rect x="425.70" y="503.60" width="7.00" height="125.70" fill="#fff" stroke="#000" stroke-width="1.4"/>
<rect x="435.50" y="620.00" width="7.00" height="9.30" fill="#000" stroke="#000" stroke-width="0.6"/>
<rect x="445.30" y="618.20" width="7.00" height="11.10" fill="#7a7a7a" stroke="#111" stroke-width="1.0"/>
<text x="439.00" y="641.00" font-size="8.1" font-weight="bold" font-style="normal" text-anchor="middle" >LSK</text>
<path d="M325.25 567.10L325.25 565.30M325.25 567.10L326.96 566.54M325.25 567.10L326.31 568.56M325.25 567.10L324.19 568.56M325.25 567.10L323.54 566.54" stroke="#111" stroke-width="1.15" stroke-linecap="round" fill="none"/>
<path d="M330.00 567.10L330.00 565.30M330.00 567.10L331.71 566.54M330.00 567.10L331.06 568.56M330.00 567.10L328.94 568.56M330.00 567.10L328.29 566.54" stroke="#111" stroke-width="1.15" stroke-linecap="round" fill="none"/>
<path d="M335.60 554.80L335.60 553.00M335.60 554.80L337.31 554.24M335.60 554.80L336.66 556.26M335.60 554.80L334.54 556.26M335.60 554.80L333.89 554.24" stroke="#111" stroke-width="1.15" stroke-linecap="round" fill="none"/>
<path d="M340.60 554.80L340.60 553.00M340.60 554.80L342.31 554.24M340.60 554.80L341.66 556.26M340.60 554.80L339.54 556.26M340.60 554.80L338.89 554.24" stroke="#111" stroke-width="1.15" stroke-linecap="round" fill="none"/>
<path d="M362.75 563.30L362.75 561.50M362.75 563.30L364.46 562.74M362.75 563.30L363.81 564.76M362.75 563.30L361.69 564.76M362.75 563.30L361.04 562.74" stroke="#111" stroke-width="1.15" stroke-linecap="round" fill="none"/>
<path d="M367.50 563.30L367.50 561.50M367.50 563.30L369.21 562.74M367.50 563.30L368.56 564.76M367.50 563.30L366.44 564.76M367.50 563.30L365.79 562.74" stroke="#111" stroke-width="1.15" stroke-linecap="round" fill="none"/>
<path d="M400.50 582.70L400.50 580.90M400.50 582.70L402.21 582.14M400.50 582.70L401.56 584.16M400.50 582.70L399.44 584.16M400.50 582.70L398.79 582.14" stroke="#111" stroke-width="1.15" stroke-linecap="round" fill="none"/>
<path d="M405.20 582.70L405.20 580.90M405.20 582.70L406.91 582.14M405.20 582.70L406.26 584.16M405.20 582.70L404.14 584.16M405.20 582.70L403.49 582.14" stroke="#111" stroke-width="1.15" stroke-linecap="round" fill="none"/>
<path d="M410.90 572.70L410.90 570.90M410.90 572.70L412.61 572.14M410.90 572.70L411.96 574.16M410.90 572.70L409.84 574.16M410.90 572.70L409.19 572.14" stroke="#111" stroke-width="1.15" stroke-linecap="round" fill="none"/>
<path d="M415.80 572.70L415.80 570.90M415.80 572.70L417.51 572.14M415.80 572.70L416.86 574.16M415.80 572.70L414.74 574.16M415.80 572.70L414.09 572.14" stroke="#111" stroke-width="1.15" stroke-linecap="round" fill="none"/>
<path d="M436.70 595.00L436.70 593.20M436.70 595.00L438.41 594.44M436.70 595.00L437.76 596.46M436.70 595.00L435.64 596.46M436.70 595.00L434.99 594.44" stroke="#111" stroke-width="1.15" stroke-linecap="round" fill="none"/>
<path d="M441.50 595.00L441.50 593.20M441.50 595.00L443.21 594.44M441.50 595.00L442.56 596.46M441.50 595.00L440.44 596.46M441.50 595.00L439.79 594.44" stroke="#111" stroke-width="1.15" stroke-linecap="round" fill="none"/>
<path d="M446.50 595.00L446.50 593.20M446.50 595.00L448.21 594.44M446.50 595.00L447.56 596.46M446.50 595.00L445.44 596.46M446.50 595.00L444.79 594.44" stroke="#111" stroke-width="1.15" stroke-linecap="round" fill="none"/>
<path d="M443.40 582.80L443.40 581.00M443.40 582.80L445.11 582.24M443.40 582.80L444.46 584.26M443.40 582.80L442.34 584.26M443.40 582.80L441.69 582.24" stroke="#111" stroke-width="1.15" stroke-linecap="round" fill="none"/>
<path d="M448.50 582.80L448.50 581.00M448.50 582.80L450.21 582.24M448.50 582.80L449.56 584.26M448.50 582.80L447.44 584.26M448.50 582.80L446.79 582.24" stroke="#111" stroke-width="1.15" stroke-linecap="round" fill="none"/>
<path d="M453.50 582.80L453.50 581.00M453.50 582.80L455.21 582.24M453.50 582.80L454.56 584.26M453.50 582.80L452.44 584.26M453.50 582.80L451.79 582.24" stroke="#111" stroke-width="1.15" stroke-linecap="round" fill="none"/>
<text transform="translate(287.20,563.40) rotate(-90)" font-size="8.9" font-weight="bold" text-anchor="middle" >Normalised GFP+</text>
<rect x="448.60" y="511.80" width="11.60" height="5.80" fill="#fff" stroke="#000" stroke-width="1.3"/>
<rect x="448.00" y="523.20" width="12.80" height="6.80" fill="#000" stroke="#000" stroke-width="0.3"/>
<rect x="448.60" y="535.60" width="11.60" height="5.80" fill="#7a7a7a" stroke="#111" stroke-width="1.2"/>
<text x="465.60" y="517.60" font-size="8.7" font-weight="normal" font-style="italic" text-anchor="start" >Nons shRNA</text>
<text x="465.60" y="529.60" font-size="8.7" font-weight="normal" font-style="italic" text-anchor="start" >Yy1.1 shRNA</text>
<text x="465.60" y="541.30" font-size="8.7" font-weight="normal" font-style="italic" text-anchor="start" >Yy1.6 shRNA</text>
</svg></body></html>
